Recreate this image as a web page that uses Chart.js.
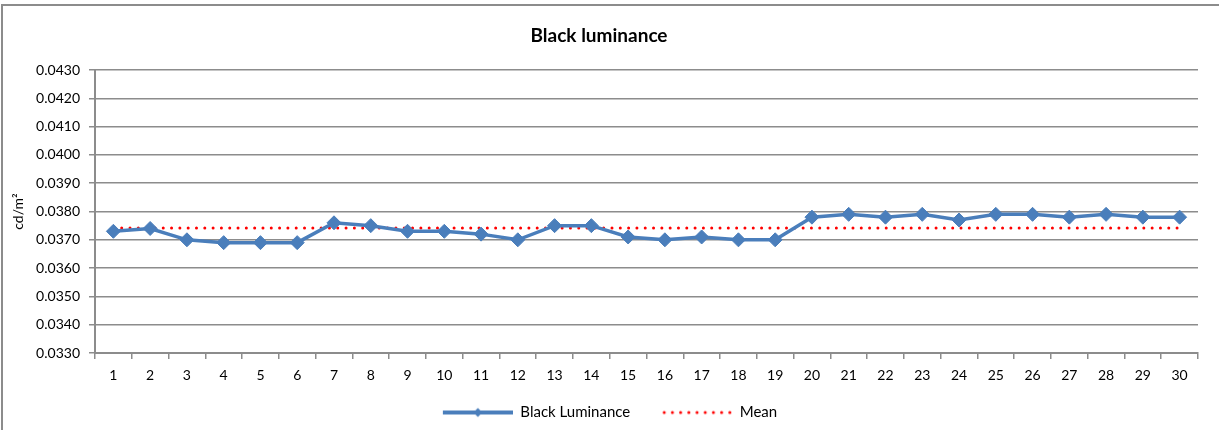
<!DOCTYPE html>
<html>
<head>
<meta charset="utf-8">
<script src="https://cdn.jsdelivr.net/npm/chart.js@4"></script>
<style>
    html, body { margin: 0; padding: 0; background: #fff; overflow: hidden; }
    #wrap { position: relative; width: 1219px; height: 430px; overflow: hidden; }
    #frame { position: absolute; left: 1px; top: 4px; width: 1300px; height: 500px; border: 2px solid #8c8c8c; box-sizing: border-box; }
    #box { position: absolute; left: 0; top: 0; width: 1219px; height: 430px; }
</style>
</head>
<body>
<div id="wrap">
    <div id="frame"></div>
    <div id="box"><canvas id="chart"></canvas></div>
</div>
<script>
// datos del gráfico
const measurements = ['1', '2', '3', '4', '5', '6', '7', '8', '9', '10',
    '11', '12', '13', '14', '15', '16', '17', '18', '19', '20',
    '21', '22', '23', '24', '25', '26', '27', '28', '29', '30'];

const blackLuminance = [0.0373, 0.0374, 0.0370, 0.0369, 0.0369, 0.0369, 0.0376, 0.0375, 0.0373, 0.0373,
    0.0372, 0.0370, 0.0375, 0.0375, 0.0371, 0.0370, 0.0371, 0.0370, 0.0370, 0.0378,
    0.0379, 0.0378, 0.0379, 0.0377, 0.0379, 0.0379, 0.0378, 0.0379, 0.0378, 0.0378];

const meanLine = [0.03742, 0.03742, 0.03742, 0.03742, 0.03742, 0.03742, 0.03742, 0.03742, 0.03742, 0.03742,
    0.03742, 0.03742, 0.03742, 0.03742, 0.03742, 0.03742, 0.03742, 0.03742, 0.03742, 0.03742,
    0.03742, 0.03742, 0.03742, 0.03742, 0.03742, 0.03742, 0.03742, 0.03742, 0.03742, 0.03742];

const yMin = 0.033;
const yMax = 0.043;
const yStep = 0.001;

const blue = '#4a7ebb';
const red = '#ff0000';
const gridGray = '#8c8c8c';

// muestras de la leyenda (margen izquierdo transparente = hueco entre elementos)
const sampleGap = 22;

function makeLineSample() {
    const c = document.createElement('canvas');
    c.width = 70 + sampleGap; c.height = 12;
    const g = c.getContext('2d');
    g.strokeStyle = blue;
    g.lineWidth = 4;
    g.beginPath(); g.moveTo(sampleGap, 6); g.lineTo(sampleGap + 70, 6); g.stroke();
    g.fillStyle = blue;
    const cx = sampleGap + 35;
    g.beginPath(); g.moveTo(cx, 1.5); g.lineTo(cx + 4.5, 6); g.lineTo(cx, 10.5); g.lineTo(cx - 4.5, 6); g.closePath(); g.fill();
    return c;
}

function makeDotSample() {
    const c = document.createElement('canvas');
    c.width = 70 + sampleGap; c.height = 6;
    const g = c.getContext('2d');
    g.fillStyle = red;
    for (let i = 0; i < 9; i++) {
        g.beginPath(); g.arc(sampleGap + 2 + i * 8.2, 3, 1.5, 0, Math.PI * 2); g.fill();
    }
    return c;
}

const lineSample = makeLineSample();
const dotSample = makeDotSample();

Chart.defaults.font.family = 'Lato, "Liberation Sans", sans-serif';
Chart.defaults.font.size = 14;
Chart.defaults.color = '#000';

const ctx = document.getElementById('chart').getContext('2d');
const chart = new Chart(ctx, {
    type: 'line',
    data: {
        labels: measurements,
        datasets: [{
            label: 'Black Luminance',
            data: blackLuminance,
            borderColor: blue,
            backgroundColor: blue,
            borderWidth: 3.5,
            pointStyle: 'rectRot',
            pointRadius: 7,
            pointBorderWidth: 1,
            pointBackgroundColor: blue,
            pointBorderColor: blue,
            tension: 0,
        }, {
            label: 'Mean',
            data: meanLine,
            borderColor: red,
            borderWidth: 3,
            borderDash: [0.01, 8.3],
            borderCapStyle: 'round',
            pointRadius: 0,
            tension: 0,
        }],
    },
    options: {
        responsive: true,
        maintainAspectRatio: false,
        animation: false,
        events: [],
        layout: { padding: { left: 0, right: 21, top: 0, bottom: 0 } },
        plugins: {
            title: {
                display: true,
                text: 'Black luminance',
                font: { size: 19, weight: 'bold' },
                padding: { top: 24, bottom: 23.2 },
            },
            legend: {
                position: 'bottom',
                labels: {
                    usePointStyle: true,
                    pointStyleWidth: 70 + sampleGap,
                    padding: 10,
                    font: { size: 15 },
                    generateLabels: (c) => {
                        const items = Chart.defaults.plugins.legend.labels.generateLabels(c);
                        items[0].pointStyle = lineSample;
                        items[1].pointStyle = dotSample;
                        return items;
                    },
                },
            },
            tooltip: { enabled: false },
        },
        scales: {
            x: {
                offset: true,
                grid: {
                    offset: true,
                    drawOnChartArea: false,
                    drawTicks: true,
                    tickLength: 6,
                    color: gridGray,
                    lineWidth: 1.5,
                },
                border: { color: gridGray, width: 2 },
                ticks: { padding: 8, maxRotation: 0, autoSkip: false },
                afterFit: (scale) => { scale.height = 42; },
            },
            y: {
                min: yMin,
                max: yMax,
                grid: {
                    color: gridGray,
                    lineWidth: 1.5,
                    tickLength: 6,
                },
                border: { color: gridGray, width: 2 },
                ticks: {
                    stepSize: yStep,
                    padding: 9,
                    callback: (v) => v.toFixed(4),
                },
                title: {
                    display: true,
                    text: 'cd/m²',
                    font: { size: 14 },
                    padding: { top: 10, bottom: 0 },
                },
                afterFit: (scale) => { scale.width = 95; },
            },
        },
    },
});
</script>
</body>
</html>
